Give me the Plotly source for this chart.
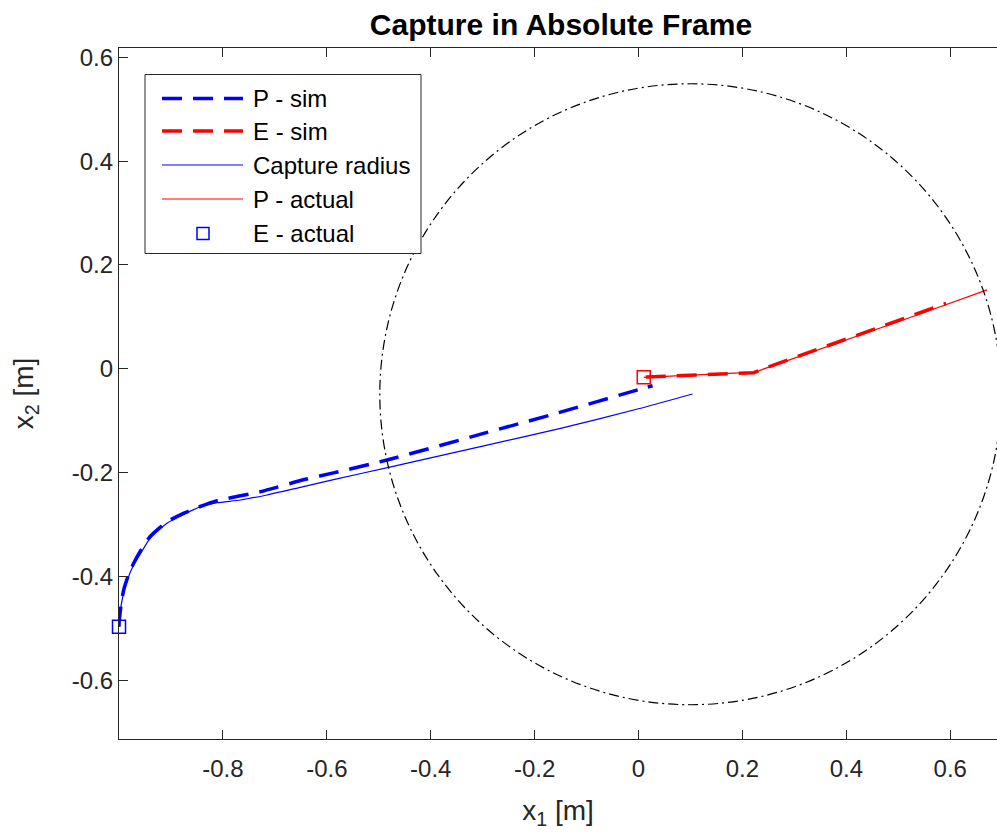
import plotly.graph_objects as go

# ---- trajectories (metres) ----
p_sim_x = [-1.000, -0.9998, -0.996, -0.991, -0.982, -0.972, -0.957, -0.940, -0.907,
           -0.875, -0.850, -0.811, -0.728, -0.641, -0.587, -0.484, -0.300, -0.1536, 0.000, 0.027]
p_sim_y = [-0.497, -0.489, -0.455, -0.426, -0.398, -0.375, -0.348, -0.323, -0.2945,
           -0.278, -0.2675, -0.254, -0.2367, -0.2128, -0.2005, -0.1757, -0.1249, -0.0845, -0.040, -0.0326]

p_act_x = [-1.000, -0.998, -0.993, -0.985, -0.972, -0.955, -0.940, -0.907, -0.875,
           -0.843, -0.811, -0.766, -0.715, -0.651, -0.587, -0.481, -0.300, -0.150, 0.000, 0.104]
p_act_y = [-0.497, -0.470, -0.440, -0.410, -0.378, -0.350, -0.326, -0.297, -0.280,
           -0.2656, -0.258, -0.2527, -0.243, -0.2283, -0.2135, -0.1898, -0.149, -0.1147, -0.077, -0.0485]

e_sim_x = [0.014, 0.120, 0.2218, 0.240, 0.400, 0.592]
e_sim_y = [-0.0158, -0.011, -0.0075, 0.000, 0.058, 0.126]

e_act_x = [0.010, 0.120, 0.225, 0.240, 0.400, 0.550, 0.671]
e_act_y = [-0.0164, -0.0115, -0.0065, -0.0005, 0.0555, 0.1085, 0.152]

# start markers
blue_start = (-1.000, -0.497)
red_start = (0.010, -0.0164)

# capture circle
circle_center = (0.100, -0.049)
circle_radius = 0.598

# axes
x_range = [-1.0, 0.690]
y_range = [-0.7130, 0.6179]
x_ticks = [-0.8, -0.6, -0.4, -0.2, 0.0, 0.2, 0.4, 0.6]
x_tick_text = ["-0.8", "-0.6", "-0.4", "-0.2", "0", "0.2", "0.4", "0.6"]
y_ticks = [-0.6, -0.4, -0.2, 0.0, 0.2, 0.4, 0.6]
y_tick_text = ["-0.6", "-0.4", "-0.2", "0", "0.2", "0.4", "0.6"]

legend_labels = ["P - sim", "E - sim", "Capture radius", "P - actual", "E - actual"]

FONT = "Liberation Sans, Arial, Helvetica, sans-serif"
AX = "#262626"
BLUE = "#0000ff"
RED = "#ff0000"
DASH = "20px,11px"

W, H = 997, 840
ML, MR, MT, MB = 119, 0, 48, 101
PW, PH = W - ML - MR, H - MT - MB


def px(x):
    return (x - ML) / PW


def py(y):
    return (H - MB - y) / PH


fig = go.Figure()

fig.add_trace(go.Scatter(x=p_sim_x, y=p_sim_y, mode="lines", name="P - sim",
                         line=dict(color=BLUE, width=3.5, dash=DASH, shape="spline", smoothing=0.6)))
fig.add_trace(go.Scatter(x=e_sim_x, y=e_sim_y, mode="lines", name="E - sim",
                         line=dict(color=RED, width=3.5, dash=DASH)))
fig.add_trace(go.Scatter(x=p_act_x, y=p_act_y, mode="lines", name="Capture radius",
                         line=dict(color=BLUE, width=1.2, shape="spline", smoothing=0.6)))
fig.add_trace(go.Scatter(x=e_act_x, y=e_act_y, mode="lines", name="P - actual",
                         line=dict(color=RED, width=1.2)))
fig.add_trace(go.Scatter(x=[blue_start[0]], y=[blue_start[1]], mode="markers", name="E - actual",
                         marker=dict(symbol="square-open", size=13, color=BLUE, line=dict(width=1.5)),
                         cliponaxis=False))
fig.add_trace(go.Scatter(x=[red_start[0]], y=[red_start[1]], mode="markers", name="E start",
                         marker=dict(symbol="square-open", size=13, color=RED, line=dict(width=1.5)),
                         cliponaxis=False))

shapes = [dict(type="circle", xref="x", yref="y",
               x0=circle_center[0] - circle_radius, x1=circle_center[0] + circle_radius,
               y0=circle_center[1] - circle_radius, y1=circle_center[1] + circle_radius,
               line=dict(color="black", width=1.2, dash="10px,4px,2px,4px"))]

# legend box
shapes.append(dict(type="rect", xref="paper", yref="paper",
                   x0=px(145), x1=px(421), y0=py(253.5), y1=py(74.5),
                   fillcolor="white", line=dict(color=AX, width=1)))
rows = [98.5, 131, 165, 199, 233.5]
key_styles = [(BLUE, 3.5, DASH), (RED, 3.5, DASH), (BLUE, 1.2, "solid"), (RED, 1.2, "solid")]
for r, (c, w, d) in zip(rows[:4], key_styles):
    shapes.append(dict(type="line", xref="paper", yref="paper",
                       x0=px(162), x1=px(243), y0=py(r), y1=py(r),
                       line=dict(color=c, width=w, dash=d)))
shapes.append(dict(type="rect", xref="paper", yref="paper",
                   x0=px(197), x1=px(209), y0=py(rows[4] + 6), y1=py(rows[4] - 6),
                   line=dict(color=BLUE, width=1.5)))

annotations = []
for r, lab in zip(rows, legend_labels):
    annotations.append(dict(xref="paper", yref="paper", x=px(251), y=py(r), text=lab,
                            showarrow=False, xanchor="left", yanchor="middle",
                            font=dict(family=FONT, size=24, color="black")))

fig.update_layout(
    width=W, height=H,
    margin=dict(l=ML, r=MR, t=MT, b=MB),
    paper_bgcolor="white", plot_bgcolor="white",
    showlegend=False,
    font=dict(family=FONT, size=24, color=AX),
    title=dict(text="<b>Capture in Absolute Frame</b>", x=561 / W, xanchor="center",
               y=1 - 24 / H, yanchor="middle", yref="container",
               font=dict(family=FONT, size=30, color="black")),
    shapes=shapes,
    annotations=annotations,
)

fig.update_xaxes(range=x_range, tickvals=x_ticks, ticktext=x_tick_text,
                 showgrid=False, zeroline=False, showline=True, linecolor=AX, linewidth=1.3,
                 mirror="ticks", ticks="inside", ticklen=9, tickcolor=AX, tickwidth=1,
                 ticklabelstandoff=8,
                 tickfont=dict(family=FONT, size=24, color=AX),
                 title=dict(text="x<sub>1</sub> [m]", font=dict(family=FONT, size=28, color=AX),
                            standoff=19))
fig.update_yaxes(range=y_range, tickvals=y_ticks, ticktext=y_tick_text,
                 showgrid=False, zeroline=False, showline=True, linecolor=AX, linewidth=1.3,
                 mirror=False, ticks="inside", ticklen=9, tickcolor=AX, tickwidth=1,
                 tickfont=dict(family=FONT, size=24, color=AX),
                 title=dict(text="x<sub>2</sub> [m]", font=dict(family=FONT, size=28, color=AX),
                            standoff=29))

fig.write_html("out.html")
